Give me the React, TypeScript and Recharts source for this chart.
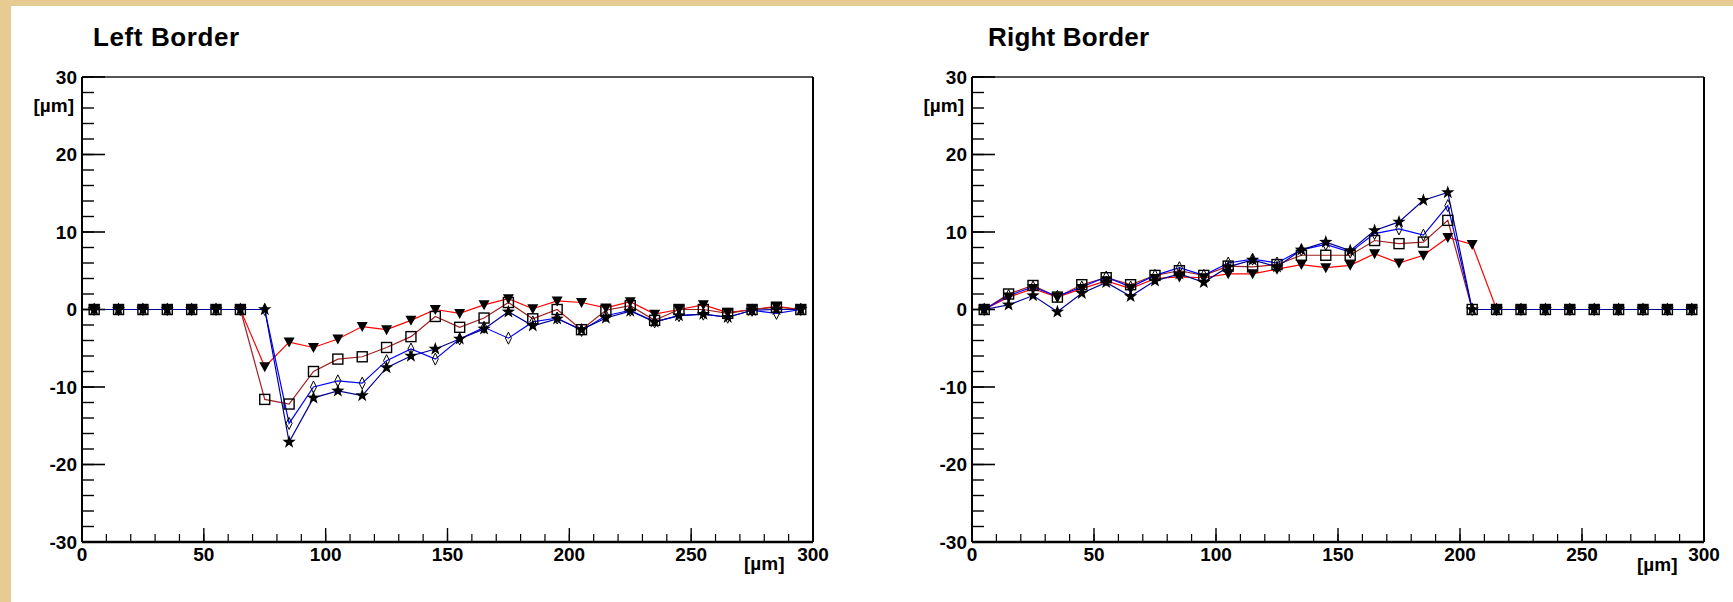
import React from "react";
import { LineChart, Line, XAxis, YAxis } from "recharts";

const xs = [5, 15, 25, 35, 45, 55, 65, 75, 85, 95, 105, 115, 125, 135, 145, 155, 165, 175, 185, 195, 205, 215, 225, 235, 245, 255, 265, 275, 285, 295];

const leftRed = [0, 0, 0, 0, 0, 0, 0, -7.4, -4.2, -4.9, -3.8, -2.2, -2.6, -1.4, 0.0, -0.5, 0.6, 1.4, 0.1, 1.1, 0.9, 0.2, 1.0, -0.6, 0.0, 0.6, -0.4, 0.0, 0.4, 0.0];
const leftBrown = [0, 0, 0, 0, 0, 0, 0, -11.6, -12.2, -8.0, -6.4, -6.1, -4.9, -3.5, -0.9, -2.3, -1.1, 0.9, -1.2, 0.0, -2.6, -0.1, 0.5, -1.4, 0.0, 0.0, -0.5, 0.0, 0.3, 0.0];
const leftBlue = [0, 0, 0, 0, 0, 0, 0, 0, -14.7, -10.0, -9.2, -9.5, -6.6, -5.1, -6.4, -3.8, -2.3, -3.7, -1.6, -1.1, -2.7, -0.8, -0.1, -1.6, -0.8, -0.6, -1.0, -0.1, -0.5, 0.0];
const leftNavy = [0, 0, 0, 0, 0, 0, 0, 0, -17.1, -11.4, -10.5, -11.1, -7.5, -6.0, -5.1, -3.8, -2.5, -0.3, -2.1, -1.2, -2.6, -1.1, -0.2, -1.6, -0.8, -0.6, -1.0, -0.1, 0.0, 0.0];

const rightRed = [0, 1.6, 2.7, 1.6, 2.7, 3.7, 2.7, 4.0, 4.2, 4.1, 4.6, 4.6, 5.2, 5.8, 5.4, 5.7, 7.2, 6.0, 7.0, 9.3, 8.4, 0, 0, 0, 0, 0, 0, 0, 0, 0];
const rightBrown = [0, 2.0, 3.1, 1.6, 3.2, 4.1, 3.2, 4.4, 5.0, 4.4, 5.6, 5.5, 5.8, 7.0, 7.0, 7.0, 8.9, 8.5, 8.7, 11.5, 0, 0, 0, 0, 0, 0, 0, 0, 0, 0];
const rightBlue = [0, 1.8, 2.9, 1.7, 2.9, 4.2, 2.9, 4.4, 5.4, 4.4, 6.0, 6.5, 6.0, 7.7, 8.4, 7.4, 9.8, 10.4, 9.6, 13.4, 0, 0, 0, 0, 0, 0, 0, 0, 0, 0];
const rightNavy = [0, 0.6, 1.8, -0.3, 2.1, 3.5, 1.7, 3.7, 4.6, 3.5, 5.5, 6.4, 5.5, 7.7, 8.7, 7.6, 10.2, 11.3, 14.1, 15.1, 0, 0, 0, 0, 0, 0, 0, 0, 0, 0];

const xMajorTicks = [0, 50, 100, 150, 200, 250, 300];
const xMinorTicks = [0, 10, 20, 30, 40, 50, 60, 70, 80, 90, 100, 110, 120, 130, 140, 150, 160, 170, 180, 190, 200, 210, 220, 230, 240, 250, 260, 270, 280, 290, 300];
const yMajorTicks = [-30, -20, -10, 0, 10, 20, 30];
const yMinorTicks = [-30, -28, -26, -24, -22, -20, -18, -16, -14, -12, -10, -8, -6, -4, -2, 0, 2, 4, 6, 8, 10, 12, 14, 16, 18, 20, 22, 24, 26, 28, 30];

const titles = ["Left Border", "Right Border"];
const unitLabel = "[\u00b5m]";

const FONT = '"Liberation Sans", Arial, Helvetica, sans-serif';
const TAN = "#e6cb93";

const tickStyle = { fontSize: 19, fontWeight: 700, fill: "#000", fontFamily: FONT };
const EmptyTick = () => <g />;

const TriDown = (p: any) => {
  if (p.cx == null || p.cy == null) return null;
  const { cx, cy } = p;
  return <polygon points={`${cx - 5.5},${cy - 4.5} ${cx + 5.5},${cy - 4.5} ${cx},${cy + 5.5}`} fill="#000" />;
};
const OpenSquare = (p: any) => {
  if (p.cx == null || p.cy == null) return null;
  return <rect x={p.cx - 5} y={p.cy - 5} width={10} height={10} fill="none" stroke="#000" strokeWidth={1.4} />;
};
const OpenDiamond = (p: any) => {
  if (p.cx == null || p.cy == null) return null;
  const { cx, cy } = p;
  return <polygon points={`${cx},${cy - 6} ${cx + 3},${cy} ${cx},${cy + 6} ${cx - 3},${cy}`} fill="none" stroke="#000" strokeWidth={1} />;
};
const Star = (p: any) => {
  if (p.cx == null || p.cy == null) return null;
  const { cx, cy } = p;
  const pts: string[] = [];
  for (let k = 0; k < 10; k++) {
    const r = k % 2 === 0 ? 7 : 2.8;
    const a = -Math.PI / 2 + (k * Math.PI) / 5;
    pts.push(`${cx + r * Math.cos(a)},${cy + r * Math.sin(a)}`);
  }
  return <polygon points={pts.join(" ")} fill="#000" />;
};

function makeData(red: number[], brown: number[], blue: number[], navy: number[]) {
  return xs.map((x, i) => ({ x, red: red[i], brown: brown[i], blue: blue[i], navy: navy[i] }));
}

function Panel({ data, width, margin }: { data: any[]; width: number; margin: any }) {
  return (
    <LineChart width={width} height={602} data={data} margin={margin}>
      <XAxis xAxisId="x" dataKey="x" type="number" domain={[0, 300]} allowDataOverflow ticks={xMajorTicks} interval={0}
        height={1} tickSize={0} tickMargin={6} tickLine={false} axisLine={{ stroke: "#000", strokeWidth: 2.5 }} tick={tickStyle} />
      <XAxis xAxisId="xmaj" dataKey="x" type="number" domain={[0, 300]} allowDataOverflow ticks={xMajorTicks} interval={0}
        height={1} mirror tickSize={14} tick={EmptyTick} axisLine={false} tickLine={{ stroke: "#000", strokeWidth: 1.4 }} />
      <XAxis xAxisId="xmin" dataKey="x" type="number" domain={[0, 300]} allowDataOverflow ticks={xMinorTicks} interval={0}
        height={1} mirror tickSize={7} tick={EmptyTick} axisLine={false} tickLine={{ stroke: "#000", strokeWidth: 1.2 }} />
      <XAxis xAxisId="xtop" dataKey="x" type="number" domain={[0, 300]} allowDataOverflow orientation="top"
        height={1} tick={false} tickLine={false} axisLine={{ stroke: "#555", strokeWidth: 2 }} />
      <YAxis yAxisId="y" type="number" domain={[-30, 30]} allowDataOverflow ticks={yMajorTicks} interval={0}
        width={1} tickSize={0} tickMargin={5} tickLine={false} axisLine={{ stroke: "#000", strokeWidth: 2 }} tick={tickStyle} />
      <YAxis yAxisId="ymaj" type="number" domain={[-30, 30]} allowDataOverflow ticks={yMajorTicks} interval={0}
        width={1} mirror tickSize={23} tick={EmptyTick} axisLine={false} tickLine={{ stroke: "#000", strokeWidth: 1.6 }} />
      <YAxis yAxisId="ymin" type="number" domain={[-30, 30]} allowDataOverflow ticks={yMinorTicks} interval={0}
        width={1} mirror tickSize={11} tick={EmptyTick} axisLine={false} tickLine={{ stroke: "#000", strokeWidth: 1.4 }} />
      <YAxis yAxisId="yright" type="number" domain={[-30, 30]} allowDataOverflow orientation="right"
        width={1} tick={false} tickLine={false} axisLine={{ stroke: "#000", strokeWidth: 2 }} />
      <Line xAxisId="x" yAxisId="y" type="linear" dataKey="red" stroke="#ff0000" strokeWidth={1.2} isAnimationActive={false}
        dot={(p: any) => <TriDown key={`r${p.index}`} cx={p.cx} cy={p.cy} />} activeDot={false} />
      <Line xAxisId="x" yAxisId="y" type="linear" dataKey="brown" stroke="#a32020" strokeWidth={1.2} isAnimationActive={false}
        dot={(p: any) => <OpenSquare key={`b${p.index}`} cx={p.cx} cy={p.cy} />} activeDot={false} />
      <Line xAxisId="x" yAxisId="y" type="linear" dataKey="blue" stroke="#0000ff" strokeWidth={1.2} isAnimationActive={false}
        dot={(p: any) => <OpenDiamond key={`d${p.index}`} cx={p.cx} cy={p.cy} />} activeDot={false} />
      <Line xAxisId="x" yAxisId="y" type="linear" dataKey="navy" stroke="#000099" strokeWidth={1.2} isAnimationActive={false}
        dot={(p: any) => <Star key={`s${p.index}`} cx={p.cx} cy={p.cy} />} activeDot={false} />
    </LineChart>
  );
}

const textBase: React.CSSProperties = { position: "absolute", fontFamily: FONT, fontWeight: 700, color: "#000", whiteSpace: "nowrap" };

export default function App() {
  const leftData = makeData(leftRed, leftBrown, leftBlue, leftNavy);
  const rightData = makeData(rightRed, rightBrown, rightBlue, rightNavy);
  return (
    <div style={{ position: "absolute", left: 0, top: 0, width: 1733, height: 602, background: TAN, overflow: "hidden" }}>
      <div style={{ position: "absolute", left: 11, top: 6, width: 1722, height: 596, background: "#fff" }} />
      <div style={{ position: "absolute", left: 0, top: 0 }}>
        <Panel data={leftData} width={866} margin={{ top: 76, left: 81, right: 52, bottom: 59 }} />
      </div>
      <div style={{ position: "absolute", left: 866, top: 0 }}>
        <Panel data={rightData} width={867} margin={{ top: 76, left: 105, right: 28, bottom: 59 }} />
      </div>
      <div style={{ ...textBase, left: 93, top: 24, fontSize: 26, lineHeight: "26px", letterSpacing: "0.6px" }}>{titles[0]}</div>
      <div style={{ ...textBase, left: 988, top: 24, fontSize: 26, lineHeight: "26px", letterSpacing: "0.2px" }}>{titles[1]}</div>
      <div style={{ ...textBase, right: 1733 - 74, top: 96, fontSize: 19, lineHeight: "20px" }}>{unitLabel}</div>
      <div style={{ ...textBase, right: 1733 - 964, top: 96, fontSize: 19, lineHeight: "20px" }}>{unitLabel}</div>
      <div style={{ ...textBase, left: 744, top: 554, fontSize: 19, lineHeight: "20px" }}>{unitLabel}</div>
      <div style={{ ...textBase, left: 1637, top: 555, fontSize: 19, lineHeight: "20px" }}>{unitLabel}</div>
    </div>
  );
}
